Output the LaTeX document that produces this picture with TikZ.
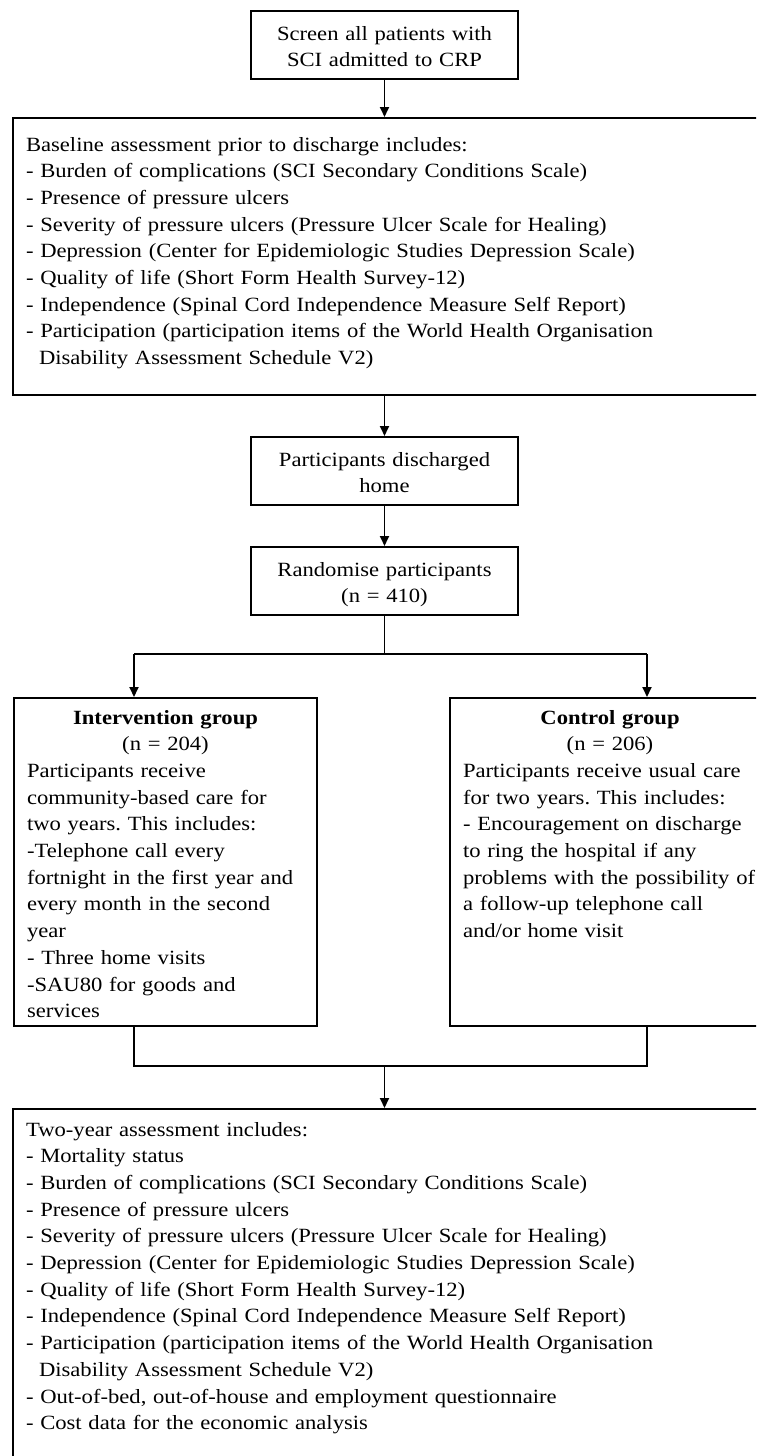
\documentclass[tikz,border=0pt]{standalone}
\usepackage{fontspec}
\setmainfont{Liberation Serif}[FakeStretch=1.12]
\usetikzlibrary{arrows.meta}
\frenchspacing

\begin{document}
\begin{tikzpicture}[x=1pt,y=-1pt,
    font=\fontsize{20.2}{26.7}\selectfont,
    line width=1.8pt,
    >={Triangle[length=10pt,width=9pt]},
    box/.style={rectangle,draw,line width=2pt,inner xsep=13pt,inner ysep=0pt,align=left,anchor=north west},
    smallbox/.style={rectangle,draw,line width=2pt,inner sep=0pt,text width=267pt,align=center,text height=29pt,text depth=39pt,anchor=north}]
    \useasboundingbox (0,0) rectangle (756,1456);
    \clip (0,0) rectangle (756,1456);

    % Screening
    \node[smallbox] (screen) at (384.5,10) {Screen all patients with\\SCI admitted to CRP};

    % Baseline assessment
    \node[box,text width=732pt,text height=33pt,text depth=244pt] (baseline) at (12,117) {Baseline assessment prior to discharge includes:\\
        - Burden of complications (SCI Secondary Conditions Scale)\\
        - Presence of pressure ulcers\\
        - Severity of pressure ulcers (Pressure Ulcer Scale for Healing)\\
        - Depression (Center for Epidemiologic Studies Depression Scale)\\
        - Quality of life (Short Form Health Survey-12)\\
        - Independence (Spinal Cord Independence Measure Self Report)\\
        - Participation (participation items of the World Health Organisation\\
        \hspace*{13pt}Disability Assessment Schedule V2)};
    \draw[->] (screen.south) -- (screen.south |- baseline.north);

    % Discharge and randomisation
    \node[smallbox] (discharge) at (384.5,436) {Participants discharged\\home};
    \draw[->] (screen.south |- baseline.south) -- (discharge.north);

    \node[smallbox] (randomise) at (384.5,546) {Randomise participants\\(n = 410)};
    \draw[->] (discharge.south) -- (randomise.north);

    % Groups
    \node[box,text width=277pt,text height=26pt,text depth=302pt] (interv) at (13,697) {\makebox[\linewidth]{\textbf{Intervention group}}\\
        \makebox[\linewidth]{(n = 204)}\\
        Participants receive\\
        community-based care for\\
        two years. This includes:\\
        -Telephone call every\\
        fortnight in the first year and\\
        every month in the second\\
        year\\
        - Three home visits\\
        -SAU80 for goods and\\
        services};

    \node[box,text width=330pt,text height=26pt,text depth=302pt] (ctrl) at (449,697) {\makebox[294pt]{\textbf{Control group}}\\
        \makebox[294pt]{(n = 206)}\\
        Participants receive usual care\\
        for two years. This includes:\\
        - Encouragement on discharge\\
        to ring the hospital if any\\
        problems with the possibility of\\
        a follow-up telephone call\\
        and/or home visit};

    \coordinate (split) at (384.5,654);
    \coordinate (splitL) at (134,654);
    \coordinate (splitR) at (647,654);
    \draw (randomise.south) -- (split);
    \draw (splitL) -- (splitR);
    \draw[->] (splitL) -- (splitL |- interv.north);
    \draw[->] (splitR) -- (splitR |- ctrl.north);

    % Two-year assessment
    \node[box,text width=760pt,text height=27pt,text depth=420pt] (twoyear) at (12,1108) {Two-year assessment includes:\\
        - Mortality status\\
        - Burden of complications (SCI Secondary Conditions Scale)\\
        - Presence of pressure ulcers\\
        - Severity of pressure ulcers (Pressure Ulcer Scale for Healing)\\
        - Depression (Center for Epidemiologic Studies Depression Scale)\\
        - Quality of life (Short Form Health Survey-12)\\
        - Independence (Spinal Cord Independence Measure Self Report)\\
        - Participation (participation items of the World Health Organisation\\
        \hspace*{13pt}Disability Assessment Schedule V2)\\
        - Out-of-bed, out-of-house and employment questionnaire\\
        - Cost data for the economic analysis};

    \coordinate (join) at (384.5,1066);
    \coordinate (joinL) at (134,1066);
    \coordinate (joinR) at (647,1066);
    \draw (joinL |- interv.south) -- (joinL) -- (joinR) -- (joinR |- ctrl.south);
    \draw[->] (join) -- (join |- twoyear.north);
\end{tikzpicture}
\end{document}
